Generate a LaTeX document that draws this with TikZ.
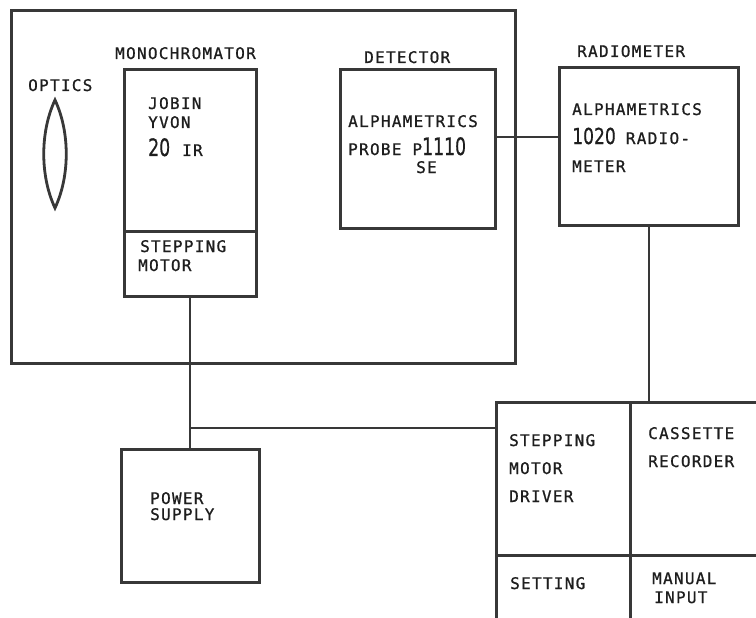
\documentclass[tikz,border=0pt]{standalone}
\usepackage{fontspec}
\newfontfamily\tw{DejaVu Sans Mono}[LetterSpace=8,FakeBold=0.9]
\newfontfamily\digf{DejaVu Sans}[FakeBold=0.6]
\newcommand\dgA[1]{\scalebox{0.72}[1]{\digf\fontsize{24}{24}\selectfont #1}}
\newcommand\dgB[1]{\scalebox{0.78}[1]{\digf\fontsize{22}{22}\selectfont #1}}
\definecolor{ink}{HTML}{383838}
\definecolor{txt}{HTML}{1E1E1E}
\begin{document}
\begin{tikzpicture}[x=1pt,y=-1pt,
  box/.style={draw=ink,line width=2.6pt,inner sep=0pt,anchor=north west},
  wire/.style={draw=ink,line width=2.2pt},
  lbl/.style={anchor=base west,inner sep=0pt,text=txt,font=\tw\fontsize{16}{16}\selectfont}]
\useasboundingbox (0,0) rectangle (756,618);
\clip (0,0) rectangle (756,618);
\fill[white] (0,0) rectangle (756,618);
% boxes
\node[box,minimum width=504pt,minimum height=353pt] (outer) at (10,9) {};
\node[box,minimum width=132pt,minimum height=162pt] (mono) at (123,68) {};
\node[box,minimum width=132pt,minimum height=65pt] (motor) at (123,230) {};
\node[box,minimum width=155pt,minimum height=159pt] (det) at (339,68) {};
\node[box,minimum width=179pt,minimum height=158pt] (rad) at (558,66) {};
\node[box,minimum width=138pt,minimum height=133pt] (power) at (120,448) {};
\node[box,minimum width=134pt,minimum height=153pt] (driver) at (495,401) {};
\node[box,minimum width=160pt,minimum height=153pt] (cass) at (629,401) {};
\node[box,minimum width=134pt,minimum height=100pt] (setting) at (495,554) {};
\node[box,minimum width=160pt,minimum height=100pt] (manual) at (629,554) {};
% lens
\draw[ink,line width=2.8pt] (55,100) .. controls (70,132) and (70,176) .. (55,208)
  .. controls (40,176) and (40,132) .. cycle;
% titles
\node[lbl] (tOptics) at (28,91) {OPTICS};
\node[lbl] (tMono) at (115,59) {MONOCHROMATOR};
\node[lbl] (tDet) at (364,63) {DETECTOR};
\node[lbl] (tRad) at (577,57) {RADIOMETER};
% contents
\node[lbl] (m1) at (148,109) {JOBIN};
\node[lbl] (m2) at (148,128) {YVON};
\node[lbl] (m3) at (148,156) {\dgA{20}\hspace{12pt}IR};
\node[lbl] (s1) at (140,252) {STEPPING};
\node[lbl] (s2) at (138,271) {MOTOR};
\node[lbl] (d1) at (348,127) {ALPHAMETRICS};
\node[lbl] (d2) at (348,155) {PROBE\hspace{11pt}P\dgA{1110}};
\node[lbl] (d3) at (416,173) {SE};
\node[lbl] (r1) at (572,115) {ALPHAMETRICS};
\node[lbl] (r2) at (572,144) {\dgB{1020}\hspace{10pt}RADIO-};
\node[lbl] (r3) at (572,172) {METER};
\node[lbl] (p1) at (150,504) {POWER};
\node[lbl] (p2) at (150,520) {SUPPLY};
\node[lbl] (v1) at (509,446) {STEPPING};
\node[lbl] (v2) at (509,474) {MOTOR};
\node[lbl] (v3) at (509,502) {DRIVER};
\node[lbl] (c1) at (648,439) {CASSETTE};
\node[lbl] (c2) at (648,467) {RECORDER};
\node[lbl] (g1) at (510,589) {SETTING};
\node[lbl] (u1) at (652,584) {MANUAL};
\node[lbl] (u2) at (654,603) {INPUT};
% connectors
\coordinate (j) at (190,428);
\draw[wire] (motor.south) -- (power.north);
\draw[wire] (motor.south |- j) -- (driver.west |- j);
\draw[wire] (det.east |- 0,137) -- (rad.west |- 0,137);
\draw[wire] (rad.south) -- (rad.south |- cass.north);
\end{tikzpicture}
\end{document}
